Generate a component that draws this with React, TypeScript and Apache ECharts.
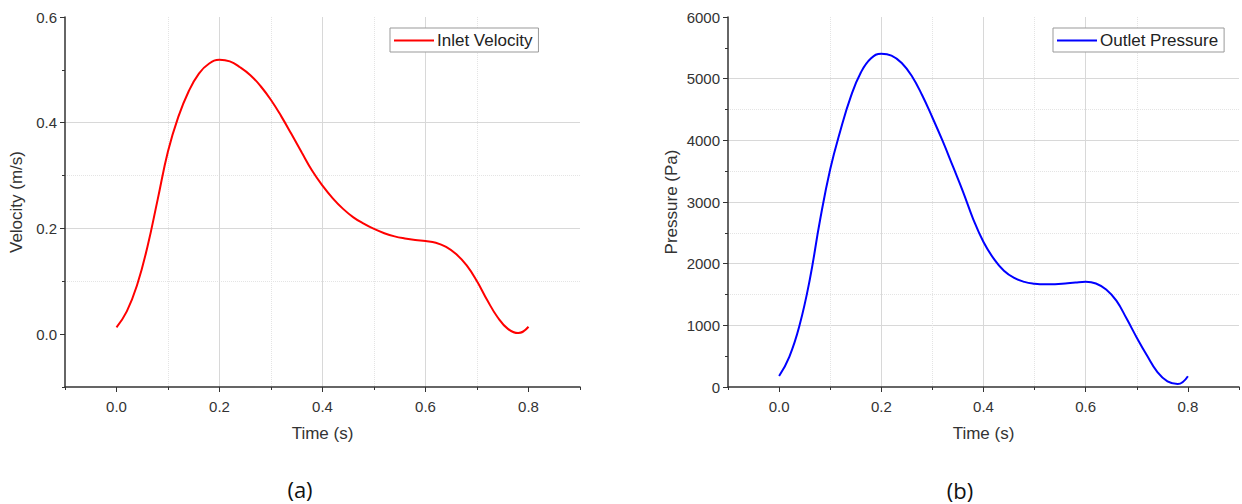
import React, { useEffect, useRef } from 'react';
import * as echarts from 'echarts';

const time = [
  0.0, 0.02, 0.04, 0.06, 0.08, 0.1, 0.12, 0.14, 0.16, 0.18, 0.2, 0.22, 0.24, 0.26, 0.28, 0.3,
  0.32, 0.34, 0.36, 0.38, 0.4, 0.42, 0.44, 0.46, 0.48, 0.5, 0.52, 0.54, 0.56, 0.58, 0.6, 0.62,
  0.64, 0.66, 0.68, 0.7, 0.72, 0.74, 0.76, 0.78, 0.8,
];

const inletVelocity = [
  0.013, 0.043, 0.093, 0.165, 0.255, 0.346, 0.411, 0.459, 0.493, 0.512, 0.519, 0.516, 0.505,
  0.49, 0.469, 0.443, 0.412, 0.378, 0.343, 0.309, 0.281, 0.257, 0.237, 0.221, 0.209, 0.199, 0.191,
  0.185, 0.181, 0.178, 0.176, 0.173, 0.165, 0.151, 0.13, 0.1, 0.064, 0.032, 0.01, 0.002, 0.014,
];

const outletPressure = [
  178, 490, 1000, 1740, 2700, 3530, 4160, 4700, 5100, 5330, 5405, 5375, 5255, 5040, 4730, 4370,
  3990, 3580, 3165, 2720, 2350, 2081, 1885, 1768, 1705, 1676, 1665, 1668, 1680, 1695, 1705, 1678,
  1580, 1400, 1110, 800, 510, 245, 90, 48, 175,
];

const timeMajor = [0, 0.2, 0.4, 0.6, 0.8];
const timeMinor = [-0.1, 0.1, 0.3, 0.5, 0.7, 0.9];
const velMajor = [0, 0.2, 0.4, 0.6];
const velMinor = [-0.1, 0.1, 0.3, 0.5];
const presMajor = [0, 1000, 2000, 3000, 4000, 5000, 6000];
const presMinor = [500, 1500, 2500, 3500, 4500, 5500];

const AXIS = '#333';
const MAJOR_GRID = '#d8d8d8';
const MINOR_GRID = '#e4e4e4';
const FONT = 'Liberation Sans';

function xAxes(g: number) {
  return [
    {
      type: 'value', gridIndex: g, min: -0.1, max: 0.9, position: 'bottom',
      name: 'Time (s)', nameLocation: 'middle', nameGap: 38,
      nameTextStyle: { fontSize: 17, color: '#333', fontFamily: FONT },
      axisLine: { show: true, onZero: false, lineStyle: { color: AXIS, width: 1.5 } },
      axisTick: { show: true, customValues: timeMajor, length: 5, lineStyle: { color: AXIS, width: 1 } },
      axisLabel: { customValues: timeMajor, formatter: (v: number) => v.toFixed(1), fontSize: 15, color: '#333', margin: 12 },
      splitLine: { show: true, showMinLine: false, showMaxLine: false, lineStyle: { color: MAJOR_GRID, width: 1 } },
    },
    {
      type: 'value', gridIndex: g, min: -0.1, max: 0.9, position: 'bottom',
      axisLine: { show: false, onZero: false },
      axisTick: { show: true, customValues: timeMinor, length: 3, lineStyle: { color: AXIS, width: 1 } },
      axisLabel: { show: false },
      splitLine: { show: true, showMinLine: false, showMaxLine: false, lineStyle: { color: MINOR_GRID, width: 1, type: 'dotted' } },
    },
  ];
}

function yAxes(g: number, min: number, max: number, major: number[], minor: number[], name: string, digits: number, gap: number) {
  return [
    {
      type: 'value', gridIndex: g, min, max, position: 'left',
      name, nameLocation: 'middle', nameGap: gap,
      nameTextStyle: { fontSize: 17, color: '#333', fontFamily: FONT },
      axisLine: { show: true, onZero: false, lineStyle: { color: AXIS, width: 1.5 } },
      axisTick: { show: true, customValues: major, length: 5, lineStyle: { color: AXIS, width: 1 } },
      axisLabel: { customValues: major, formatter: (v: number) => v.toFixed(digits), fontSize: 15, color: '#333', margin: 8 },
      splitLine: { show: true, showMinLine: false, showMaxLine: false, lineStyle: { color: MAJOR_GRID, width: 1 } },
    },
    {
      type: 'value', gridIndex: g, min, max, position: 'left',
      axisLine: { show: false, onZero: false },
      axisTick: { show: true, customValues: minor, length: 3, lineStyle: { color: AXIS, width: 1 } },
      axisLabel: { show: false },
      splitLine: { show: true, showMinLine: false, showMaxLine: false, lineStyle: { color: MINOR_GRID, width: 1, type: 'dotted' } },
    },
  ];
}

function legend(name: string, left: number) {
  return {
    data: [name], left, top: 28, orient: 'horizontal',
    backgroundColor: '#fff', borderColor: '#999', borderWidth: 1, borderRadius: 0,
    padding: [4, 6, 3, 4], icon: 'rect', itemWidth: 40, itemHeight: 2, itemGap: 6,
    textStyle: { fontSize: 17, color: '#222', fontFamily: FONT, padding: [0, 0, 0, -2] },
  };
}

export default function App() {
  const ref = useRef<HTMLDivElement>(null);
  useEffect(() => {
    document.body.style.margin = '0';
    const chart = echarts.init(ref.current!, undefined, { renderer: 'svg' });
    chart.setOption({
      animation: false,
      backgroundColor: '#fff',
      textStyle: { fontFamily: FONT },
      grid: [
        { left: 65, top: 17, width: 515, height: 370 },
        { left: 728, top: 17, width: 511, height: 370 },
      ],
      xAxis: [...xAxes(0), ...xAxes(1)],
      yAxis: [
        ...yAxes(0, -0.1, 0.6, velMajor, velMinor, 'Velocity (m/s)', 1, 40),
        ...yAxes(1, 0, 6000, presMajor, presMinor, 'Pressure (Pa)', 0, 48),
      ],
      legend: [legend('Inlet Velocity', 390), legend('Outlet Pressure', 1053)],
      series: [
        {
          name: 'Inlet Velocity', type: 'line', xAxisIndex: 0, yAxisIndex: 0,
          data: time.map((t, i) => [t, inletVelocity[i]]),
          smooth: 0.45, showSymbol: false, symbol: 'none',
          lineStyle: { color: '#ff0000', width: 2 }, itemStyle: { color: '#ff0000' },
        },
        {
          name: 'Outlet Pressure', type: 'line', xAxisIndex: 2, yAxisIndex: 2,
          data: time.map((t, i) => [t, outletPressure[i]]),
          smooth: 0.45, showSymbol: false, symbol: 'none',
          lineStyle: { color: '#0000ff', width: 2 }, itemStyle: { color: '#0000ff' },
        },
      ],
      graphic: [
        { type: 'text', x: 300, y: 489, style: { text: '(a)', fontSize: 22, fontFamily: 'Open Sans', fill: '#111', align: 'center', verticalAlign: 'middle' } },
        { type: 'text', x: 960, y: 490, style: { text: '(b)', fontSize: 22, fontFamily: 'Open Sans', fill: '#111', align: 'center', verticalAlign: 'middle' } },
      ],
    });
    return () => chart.dispose();
  }, []);
  return <div ref={ref} style={{ width: 1242, height: 504 }} />;
}
